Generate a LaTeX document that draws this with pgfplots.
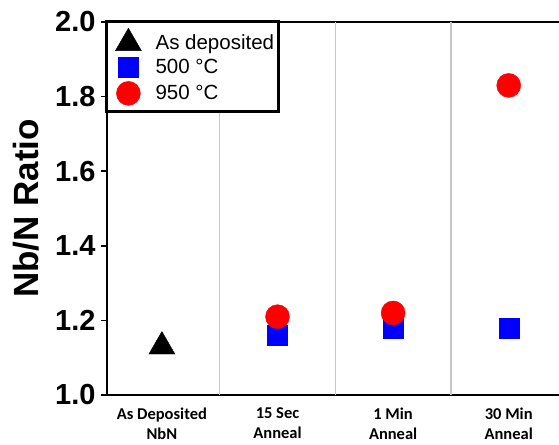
\documentclass[border=0pt]{standalone}
\usepackage{pgfplots}
\pgfplotsset{compat=1.18}
\usepackage{fontspec}
\setmainfont{Liberation Sans}
\newfontfamily\calibri{Carlito}
\definecolor{gridgray}{RGB}{200,200,200}
\pgfplotsset{myleg/.style={legend image code/.code={\path (0pt,0pt) (45pt,0pt); \draw[mark repeat=2,mark phase=2,##1] plot coordinates {(0pt,0pt) (20pt,0pt) (40pt,0pt)};}}}
\begin{document}
\begin{tikzpicture}
\begin{axis}[
  at={(0,0)}, anchor=south west,
  scale only axis, width=452pt, height=373pt,
  xmin=-0.475, xmax=3.435, ymin=1.0, ymax=2.0,
  separate axis lines,
  axis x line*=box, axis y line*=left,
  axis line style={line width=2pt, black},
  xtick={0,1,2,3},
  xticklabels={As Deposited\\NbN, 15 Sec\\Anneal, 1 Min\\Anneal, 30 Min\\Anneal},
  xticklabel style={font=\calibri\fontsize{16.5}{20}\selectfont\bfseries, align=center, yshift=-3pt},
  major x tick style={draw=none},
  extra x ticks={0.5,1.5,2.5},
  extra x tick labels={},
  extra x tick style={grid=major, major grid style={gridgray, line width=1.2pt}, major tick length=0pt},
  ytick={1.0,1.2,1.4,1.6,1.8,2.0},
  yticklabel style={font=\fontsize{29}{29}\selectfont\bfseries, xshift=-2pt},
  /pgf/number format/.cd, fixed, fixed zerofill, precision=1, assume math mode=true,
  /pgfplots/.cd,
  y tick style={black, line width=1.5pt},
  tick align=outside, major tick length=6pt,
  ylabel={Nb/N Ratio},
  ylabel style={font=\fontsize{35}{35}\selectfont\bfseries, yshift=9pt},
  legend style={name=leg, at={(0,1)}, anchor=north west, draw=none, fill=white,
    font=\fontsize{20.5}{23}\selectfont, inner xsep=2pt, inner ysep=6pt,
    row sep=4pt, cells={anchor=west}, xshift=-1pt},
  legend cell align=left,
  clip=false,
]
\addplot[only marks, mark=triangle*, mark size=15pt, black, myleg] coordinates {(0,1.13)};
\addlegendentry{As deposited}
\addplot[only marks, mark=square*, mark size=10pt, blue, draw=blue, myleg] coordinates {(1,1.16) (2,1.18) (3,1.18)};
\addlegendentry{500 °C}
\addplot[only marks, mark=*, mark size=12pt, red, draw=red, myleg] coordinates {(1,1.21) (2,1.22) (3,1.83)};
\addlegendentry{950 °C}
\end{axis}
\draw[line width=3pt, black] (leg.south west) rectangle (leg.north east);
\pgfresetboundingbox
\useasboundingbox (-107pt,-49pt) rectangle (452pt,395pt);
\end{tikzpicture}
\end{document}
